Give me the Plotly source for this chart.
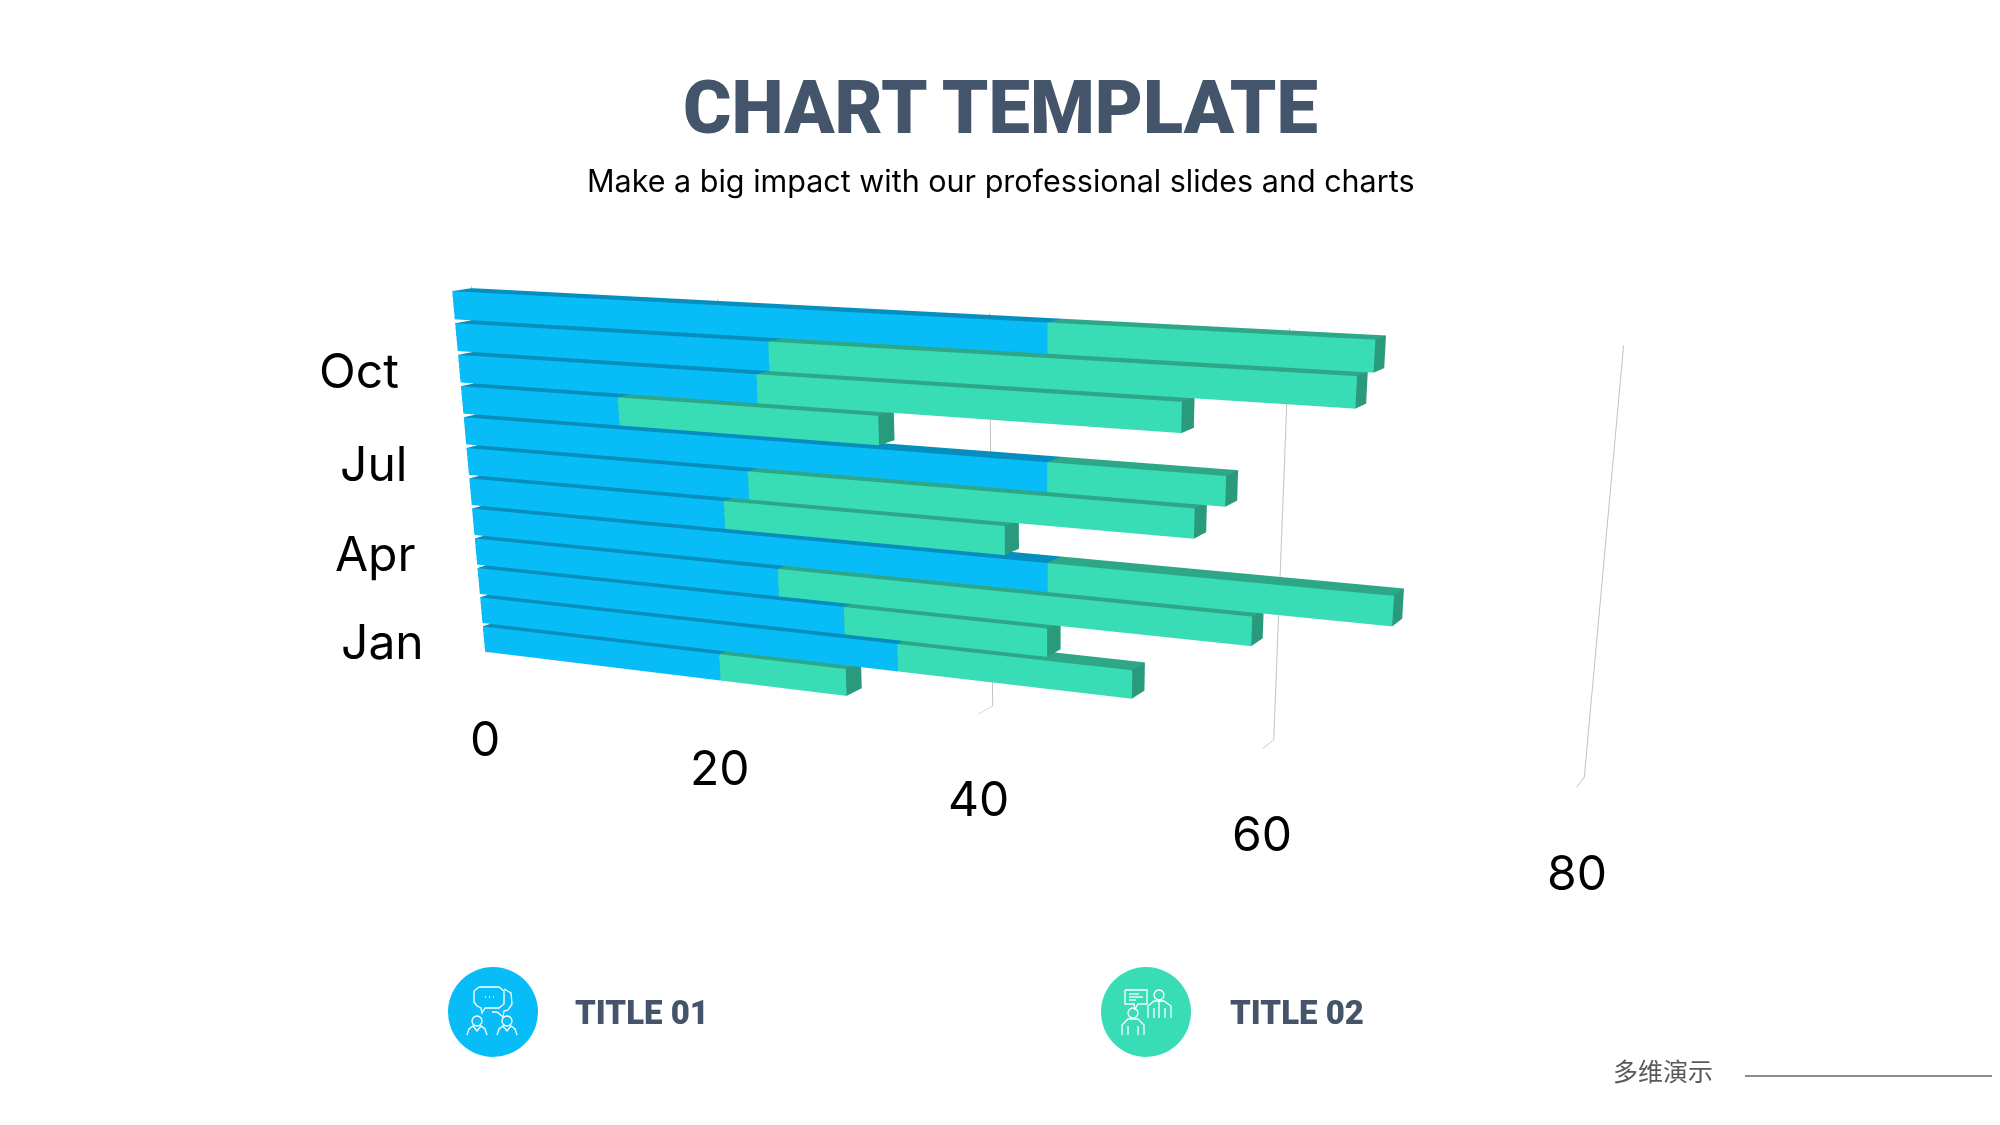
import plotly.graph_objects as go

PAGE_W, PAGE_H = 2000, 1125
BODY = 8  # the page keeps its default body margin
W, H = PAGE_W - BODY, 1950

MONTHS = ["Jan", "Feb", "Mar", "Apr", "May", "Jun", "Jul", "Aug", "Sep", "Oct", "Nov", "Dec"]
TITLE_01 = [20, 34, 30, 25, 45, 21, 23, 45, 13, 24, 25, 45]
TITLE_02 = [10, 17, 15, 34, 23, 21, 32, 12, 20, 30, 40, 21]
X_TICKS = [0, 20, 40, 60, 80]
Z_TICKS = [0, 3, 6, 9]

BLUE = ("#08BDF7", "#068FBE", "#0683AD")
GREEN = ("#39DDB5", "#2DA787", "#2A9A7C")
NAVY = "#44546A"
BAR_HALF = 0.44


def bar_mesh(starts, lengths, colors, name):
    xs, ys, zs, ii, jj, kk, fc = [], [], [], [], [], [], []
    front, top, side = colors
    for row, (s, v) in enumerate(zip(starts, lengths)):
        n = len(xs)
        for x in (s, s + v):
            for y in (0.0, 1.0):
                for z in (row - BAR_HALF, row + BAR_HALF):
                    xs.append(x)
                    ys.append(y)
                    zs.append(z)
        # vertex order: x,y,z bits -> 0..7
        quads = [
            ((0, 1, 5, 4), front),
            ((1, 3, 7, 5), top),
            ((4, 5, 7, 6), side),
            ((0, 1, 3, 2), side),
            ((2, 3, 7, 6), side),
            ((0, 2, 6, 4), side),
        ]
        for (a, b, c, d), col in quads:
            ii += [n + a, n + a]
            jj += [n + b, n + c]
            kk += [n + c, n + d]
            fc += [col, col]
    return go.Mesh3d(
        x=xs, y=ys, z=zs, i=ii, j=jj, k=kk,
        facecolor=fc, flatshading=True, name=name, hoverinfo="skip",
        lighting=dict(ambient=1, diffuse=0, specular=0, roughness=1, fresnel=0),
    )


def px(x, y):
    return (x - BODY) / W, 1 - (y - BODY) / H


def poly(cx, cy, pts):
    out = []
    for n, (dx, dy) in enumerate(pts):
        a, b = px(cx + dx, cy + dy)
        out.append(("M" if n == 0 else "L") + f"{a:.5f},{b:.5f}")
    return " ".join(out)


def line_shape(cx, cy, pts):
    return dict(type="path", xref="paper", yref="paper", path=poly(cx, cy, pts),
                line=dict(color="white", width=1.3))


def ring(cx, cy, dx, dy, r, **kw):
    x0, y1 = px(cx + dx - r, cy + dy - r)
    x1, y0 = px(cx + dx + r, cy + dy + r)
    style = dict(line=dict(color="white", width=1.3))
    style.update(kw)
    return dict(type="circle", xref="paper", yref="paper", x0=x0, x1=x1, y0=y0, y1=y1, **style)


def icon_talk(cx, cy):
    out = [
        line_shape(cx, cy, [(-14, -25), (6, -25), (11, -21), (11, -8), (6, -4), (-8, -4), (-11, 1),
                            (-12, -4), (-16, -6), (-19, -10), (-19, -21), (-14, -25)]),
        line_shape(cx, cy, [(11, -23), (18, -19), (19, -8), (15, -2), (11, -1), (10, 5), (4, 0), (-1, 0)]),
        line_shape(cx, cy, [(-8, -15), (-7, -15)]),
        line_shape(cx, cy, [(-4, -15), (-3, -15)]),
        line_shape(cx, cy, [(0, -15), (1, -15)]),
    ]
    for dx in (-16, 14):
        out.append(ring(cx, cy, dx, 9, 5))
        out.append(line_shape(cx, cy, [(dx - 10, 23), (dx - 8, 17), (dx - 4, 14), (dx, 19),
                                       (dx + 4, 14), (dx + 8, 17), (dx + 10, 23)]))
    return out


def icon_meeting(cx, cy):
    out = [
        line_shape(cx, cy, [(-21, -22), (1, -22), (1, -8), (-8, -8), (-11, -3), (-12, -8), (-21, -8), (-21, -22)]),
        line_shape(cx, cy, [(-17, -18), (-7, -18)]),
        line_shape(cx, cy, [(-17, -15), (-3, -15)]),
        line_shape(cx, cy, [(-17, -12), (-10, -12)]),
        ring(cx, cy, 13, -17, 5),
        line_shape(cx, cy, [(2, 6), (2, -6), (8, -11), (18, -11), (25, -6), (25, 6)]),
        line_shape(cx, cy, [(13, -11), (13, 6)]),
        line_shape(cx, cy, [(8, -4), (8, 6)]),
        line_shape(cx, cy, [(19, -4), (19, 6)]),
        ring(cx, cy, -13, 1, 5),
        line_shape(cx, cy, [(-24, 23), (-24, 13), (-18, 7), (-8, 7), (-2, 13), (-2, 23)]),
        line_shape(cx, cy, [(-18, 14), (-18, 23)]),
        line_shape(cx, cy, [(-8, 14), (-8, 23)]),
    ]
    return out


fig = go.Figure()
fig.add_trace(bar_mesh([0] * len(TITLE_01), TITLE_01, BLUE, "TITLE 01"))
fig.add_trace(bar_mesh(TITLE_01, TITLE_02, GREEN, "TITLE 02"))

hidden = dict(showgrid=False, zeroline=False, showline=False, showticklabels=False, ticks="",
              showbackground=False, showspikes=False, title="")

annotations = [
    dict(text="CHART TEMPLATE", x=1000, y=107, font=dict(family="Roboto", size=74, color=NAVY, weight=900)),
    dict(text="Make a big impact with our professional slides and charts", x=1000, y=181,
         font=dict(family="Inter", size=30.5, color="black")),
    dict(text="TITLE 01", x=642, y=1012, font=dict(family="Roboto", size=33, color=NAVY, weight=900)),
    dict(text="TITLE 02", x=1297, y=1012, font=dict(family="Roboto", size=33, color=NAVY, weight=900)),
    dict(text="多维演示", x=1663, y=1070, font=dict(family="Noto Sans CJK SC", size=25, color="#595959")),
]
for a in annotations:
    a["x"], a["y"] = px(a["x"], a["y"])
    a.update(xref="paper", yref="paper", xanchor="center", yanchor="middle", showarrow=False)

shapes = [
    ring(493, 1012, 0, 0, 45, fillcolor=BLUE[0], line=dict(width=0)),
    ring(1146, 1012, 0, 0, 45, fillcolor=GREEN[0], line=dict(width=0)),
    line_shape(0, 0, [(1745, 1076), (2000, 1076)]),
]
shapes[-1]["line"] = dict(color="#666666", width=1.5)
shapes += icon_talk(493, 1012) + icon_meeting(1146, 1012)

tick_font = dict(family="Inter", size=48, color="black")
axis_labels = [
    dict(x=v, y=0, z=-0.5, text=str(v), xshift=0, yshift=-85, font=tick_font, showarrow=False)
    for v in X_TICKS
] + [
    dict(x=0, y=0, z=i, text=MONTHS[i], xanchor="right", xshift=-58, yshift=-2, font=tick_font, showarrow=False)
    for i in Z_TICKS
]

fig.update_layout(
    width=W, height=H,
    margin=dict(l=0, r=0, t=0, b=0),
    paper_bgcolor="white",
    showlegend=False,
    annotations=annotations,
    shapes=shapes,
    scene=dict(
        domain=dict(x=[0.0370, 1], y=[0, 1]),
        aspectmode="manual",
        aspectratio=dict(x=2, y=0.055, z=0.643),
        camera=dict(eye=dict(x=1.6456, y=-3.4675, z=0.7489), up=dict(x=0, y=0, z=1),
                    center=dict(x=0.2013, y=-0.2235, z=-0.7007)),
        annotations=axis_labels,
        xaxis=dict(range=[0, 80], tickvals=X_TICKS, showticklabels=False, title="", showgrid=True,
                   gridcolor="#C4C4C4", gridwidth=2, zeroline=False, showline=False, ticks="",
                   showbackground=False, showspikes=False),
        yaxis=dict(range=[0, 1], **hidden),
        zaxis=dict(range=[-0.5, 11.5], tickvals=Z_TICKS, showticklabels=False, title="", showgrid=False,
                   zeroline=False, showline=False, ticks="", showbackground=False, showspikes=False),
    ),
)

fig.write_html("out.html")
